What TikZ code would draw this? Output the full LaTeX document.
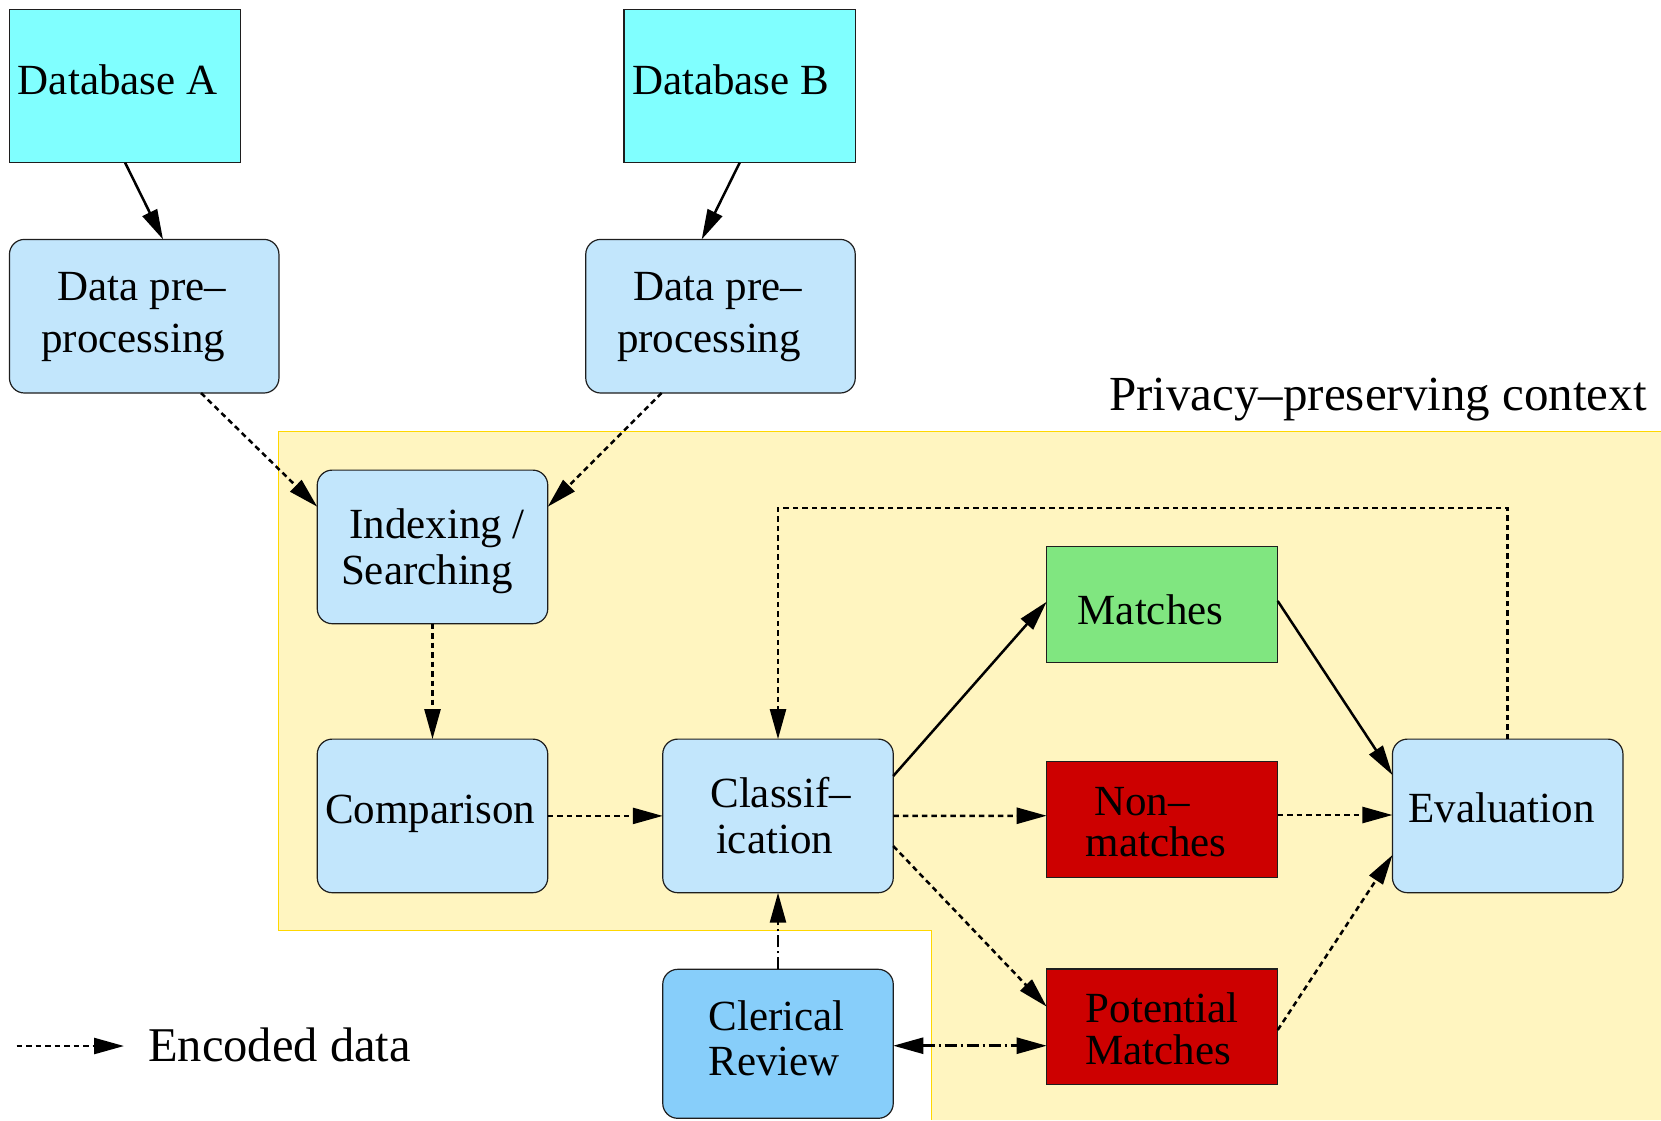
\documentclass[tikz,border=0pt]{standalone}
\usepackage{fontspec}
\setmainfont{Liberation Serif}
\usetikzlibrary{arrows.meta,calc}

\definecolor{dbcyan}{RGB}{128,255,255}
\definecolor{stepblue}{RGB}{194,230,252}
\definecolor{reviewblue}{RGB}{135,206,250}
\definecolor{matchgreen}{RGB}{128,230,128}
\definecolor{nomatchred}{RGB}{205,0,0}
\definecolor{ctxfill}{RGB}{255,245,192}
\definecolor{ctxline}{RGB}{255,215,0}
\definecolor{edgeline}{RGB}{30,30,30}

% one line of a label, moved sideways by #1 from the box centre
\newcommand\lineat[2]{\makebox[0pt]{\hspace*{#1}\hspace*{#1}#2}}
% label set inside a box: #1 raise of the first baseline above the box centre,
% #2 line spacing, #3 the lines (each given with \lineat)
\newcommand\boxtext[3]{\smash{\raisebox{#1}{\fontsize{43}{#2}\selectfont\begin{tabular}[t]{@{}c@{}}#3\end{tabular}}}}

\tikzset{
  basebox/.style={draw=edgeline, line width=1.2pt, inner sep=0pt, outer sep=0pt},
  dbbox/.style={basebox, fill=dbcyan, minimum width=231.5pt, minimum height=153.5pt},
  stepbox/.style={basebox, rounded corners=15pt, fill=stepblue, minimum width=230.5pt, minimum height=153.6pt},
  prebox/.style={stepbox, minimum width=269.5pt},
  reviewbox/.style={stepbox, fill=reviewblue, minimum height=149pt},
  outbox/.style={basebox, minimum width=231pt, minimum height=115.5pt},
  flow/.style={line width=2.5pt, -{Triangle[length=30pt,width=16pt]}},
  enc/.style={flow, dash pattern=on 5.5pt off 4pt},
  review/.style={flow, dash pattern=on 12pt off 4pt on 2pt off 4pt},
}

\begin{document}
\begin{tikzpicture}[x=1pt, y=-1pt]
\useasboundingbox (0,0) rectangle (1661,1120);

% privacy-preserving area
\fill[ctxfill] (278.3,431.7) -- (1661,431.7) -- (1661,1120) -- (931.7,1120)
  -- (931.7,930.7) -- (278.3,930.7) -- cycle;
\draw[ctxline, line width=1.5pt] (1661,431.7) -- (278.3,431.7) -- (278.3,930.7)
  -- (931.7,930.7) -- (931.7,1120);
\node[anchor=base west, inner sep=0pt, font=\fontsize{49}{52}\selectfont] (ctx)
  at (1109,410) {Privacy–preserving context};

% data sources and cleaning
\node[dbbox] (dba) at (125.1,85.9) {\boxtext{-8.5pt}{46pt}{\lineat{-7.5pt}{Database A}}};
\node[dbbox] (dbb) at (739.7,85.9) {\boxtext{-8.5pt}{46pt}{\lineat{-9.2pt}{Database B}}};
\node[prebox] (prea) at (144.2,316.2)
  {\boxtext{16.2pt}{52.7pt}{\lineat{-2.4pt}{Data pre–}\\\lineat{-10.9pt}{processing}}};
\node[prebox] (preb) at (720.5,316.2)
  {\boxtext{16.2pt}{52.7pt}{\lineat{-2.5pt}{Data pre–}\\\lineat{-11.5pt}{processing}}};

% linkage steps
\node[stepbox] (idx) at (432.5,546.9)
  {\boxtext{8.6pt}{45.7pt}{\lineat{4.5pt}{Indexing /}\\\lineat{-5.5pt}{Searching}}};
\node[stepbox] (cmp) at (432.5,815.9) {\boxtext{-7.1pt}{46pt}{\lineat{-2.2pt}{Comparison}}};
\node[stepbox] (cls) at (778,815.9)
  {\boxtext{8.5pt}{46pt}{\lineat{2.8pt}{Classif–}\\\lineat{-3.5pt}{ication}}};
\node[stepbox] (eva) at (1507.7,815.9) {\boxtext{-6.9pt}{46pt}{\lineat{-6pt}{Evaluation}}};
\node[reviewbox] (cler) at (778,1043.8)
  {\boxtext{13.8pt}{45pt}{\lineat{-1.4pt}{Clerical}\\\lineat{-4pt}{Review}}};

% classification outcomes
\node[outbox, fill=matchgreen] (mat) at (1162.2,604.5)
  {\boxtext{-19.5pt}{46pt}{\lineat{-11.7pt}{Matches}}};
\node[outbox, fill=nomatchred] (non) at (1162.2,819.5)
  {\boxtext{4.5pt}{37.7pt}{\lineat{-20.2pt}{Non–}\\\lineat{-6.2pt}{matches}}};
\node[outbox, fill=nomatchred] (pot) at (1162.2,1026.8)
  {\boxtext{4.1pt}{39pt}{\lineat{0pt}{Potential}\\\lineat{-4.2pt}{Matches}}};

% connectors
\draw[flow] (dba.south) -- ($(prea.north)+(18.8,0)$);
\draw[flow] (dbb.south) -- ($(preb.north)+(-18.8,0)$);
\draw[enc] ($(prea.south)+(56.8,0)$) -- ($(idx.west)+(0,-40.2)$);
\draw[enc] ($(preb.south)+(-58.8,0)$) -- ($(idx.east)+(0,-40.2)$);
\draw[enc] (idx.south) -- (cmp.north);
\draw[enc] (cmp.east) -- (cls.west);
\draw[flow] ($(cls.east)+(0,-39.9)$) -- ($(mat.west)+(0,-2.8)$);
\draw[enc] (cls.east) -- ($(non.west)+(0,-3.8)$);
\draw[enc] ($(cls.east)+(0,30.1)$) -- ($(pot.west)+(0,-20.1)$);
\draw[flow] ($(mat.east)+(0,-3.5)$) -- ($(eva.west)+(0,-40.9)$);
\draw[enc] ($(non.east)+(0,-4.5)$) -- ($(eva.west)+(0,-0.9)$);
\draw[enc] ($(pot.east)+(0,3.2)$) -- ($(eva.west)+(0,39.1)$);
\draw[enc] (eva.north) -- ++(0,-231) -| (cls.north);
\draw[review] (cler.north) -- (cls.south);
\draw[review, {Triangle[length=30pt,width=16pt]}-{Triangle[length=30pt,width=16pt]}]
  ($(cler.east)+(0,1.9)$) -- ($(pot.west)+(0,18.9)$);

% legend
\coordinate (lgstart) at (16.7,1046);
\node[anchor=base west, inner ysep=0pt, inner xsep=24pt, font=\fontsize{48.5}{52}\selectfont]
  (legend) at (124,1061.7) {Encoded data};
\draw[enc] (lgstart) -- (lgstart -| legend.west);
\end{tikzpicture}
\end{document}
